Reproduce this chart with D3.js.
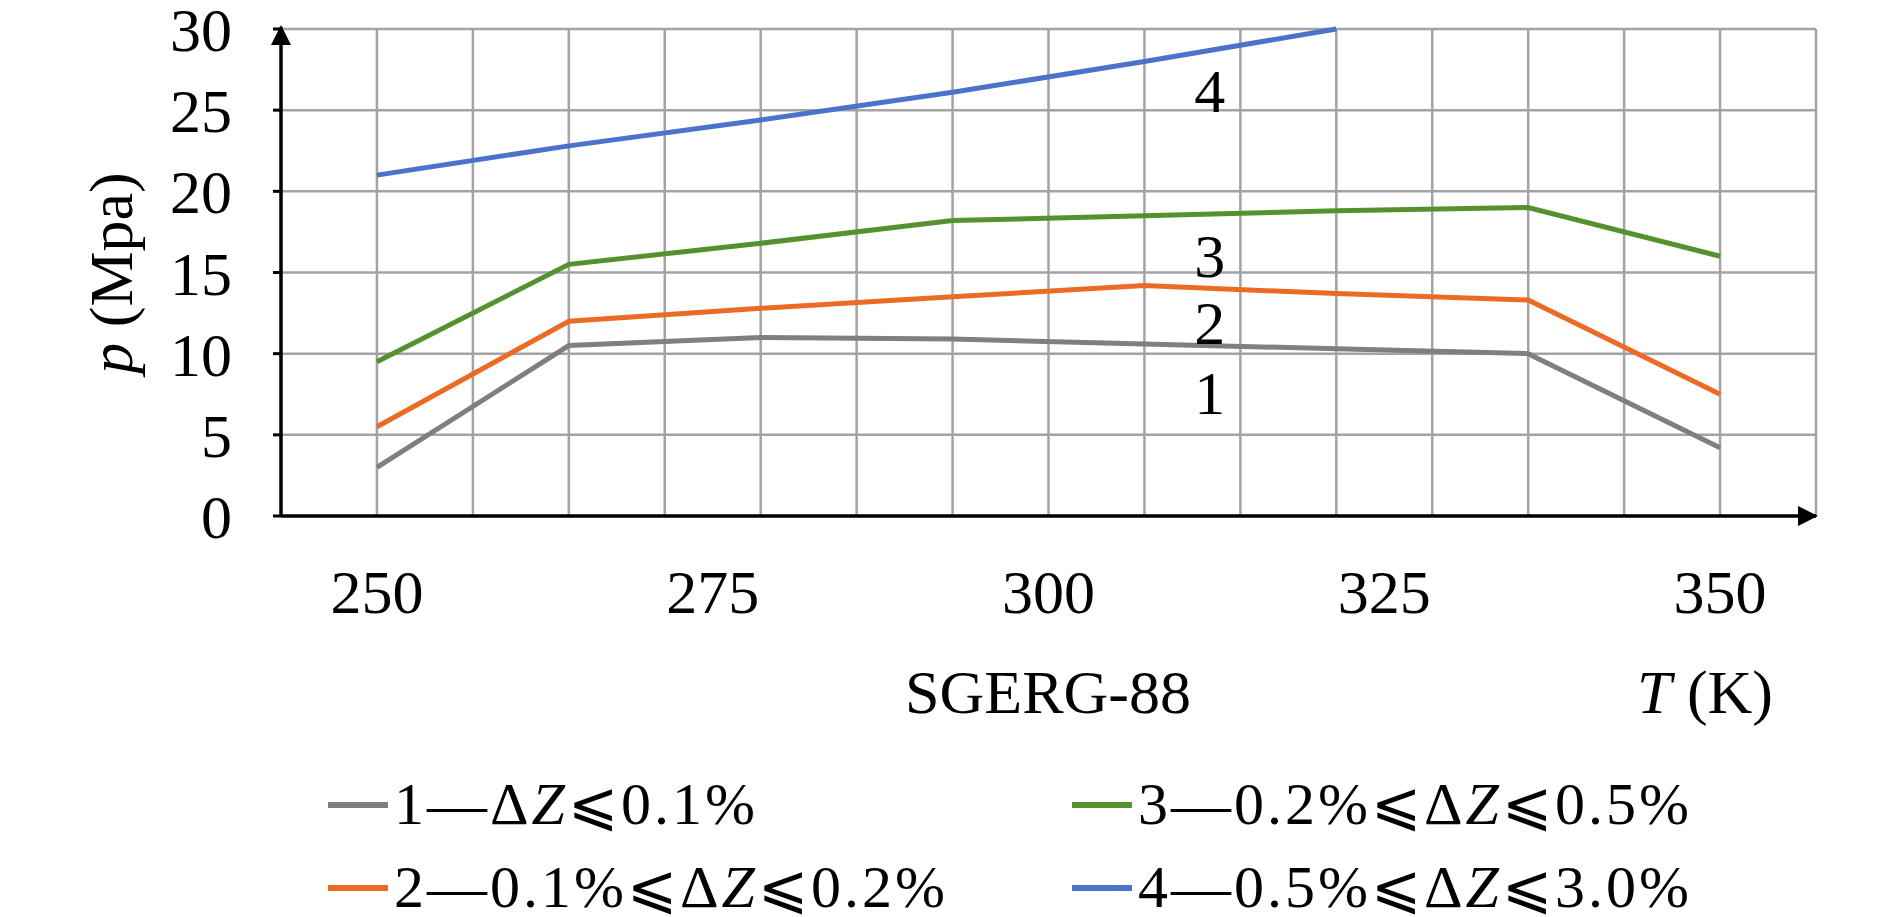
<!DOCTYPE html>
<html><head><meta charset="utf-8">
<script src="https://cdn.jsdelivr.net/npm/d3@7"></script>
<style>body{margin:0;background:#fff}text{font-family:"Liberation Serif","DejaVu Serif",serif;fill:#000}</style>
</head><body><svg id="c" width="1890" height="917"></svg>
<script>
// temperatures (K) of the sample points, and the p values of each curve
var temps = [250, 264.29, 278.57, 292.86, 307.14, 321.43, 335.71, 350]
var curve1 = [3.0, 10.5, 11.0, 10.9, 10.6, 10.3, 10.0, 4.2]
var curve2 = [5.5, 12.0, 12.8, 13.5, 14.2, 13.7, 13.3, 7.5]
var curve3 = [9.5, 15.5, 16.8, 18.2, 18.5, 18.8, 19.0, 16.0]
var curve4 = [21.0, 22.8, 24.4, 26.1, 28.0, 30.0]
var xTicks = [250, 275, 300, 325, 350]
var yTicks = [0, 5, 10, 15, 20, 25, 30]
var legendNames = [['1—Δ', '⩽0.1%'], ['2—0.1%⩽Δ', '⩽0.2%'], ['3—0.2%⩽Δ', '⩽0.5%'], ['4—0.5%⩽Δ', '⩽3.0%']]
var colors = ['#7f7f7f', '#ec6b24', '#56912f', '#4a74c9']
var curveLabels = [['1', 7.6], ['2', 11.9], ['3', 16.0], ['4', 26.2]]

var svg = d3.select('#c')
var step = 100 / 14
var x = d3.scaleLinear().domain([250 - step, 250 + 15 * step]).range([281, 1816])
var y = d3.scaleLinear().domain([0, 30]).range([516, 29])

// grid
var gx = d3.range(0, 16).map(function(i){ return 250 + i * step })
svg.selectAll('.vg').data(gx).enter().append('line')
	.attr('x1', function(d){ return x(d) }).attr('x2', function(d){ return x(d) })
	.attr('y1', y(0)).attr('y2', y(30))
	.attr('stroke', '#a3a3a3').attr('stroke-width', 2.5)
svg.selectAll('.hg').data(yTicks.slice(1)).enter().append('line')
	.attr('x1', x.range()[0]).attr('x2', x.range()[1])
	.attr('y1', function(d){ return y(d) }).attr('y2', function(d){ return y(d) })
	.attr('stroke', '#a3a3a3').attr('stroke-width', 2.5)

// axes with arrows
svg.append('defs').append('marker').attr('id', 'arr')
	.attr('viewBox', '0 0 10 10').attr('refX', 9).attr('refY', 5)
	.attr('markerWidth', 20).attr('markerHeight', 20).attr('markerUnits', 'userSpaceOnUse')
	.attr('orient', 'auto')
	.append('path').attr('d', 'M0,0L10,5L0,10z').attr('fill', '#000')
svg.append('line').attr('x1', x.range()[0]).attr('x2', x.range()[0])
	.attr('y1', y(0)).attr('y2', y(30) - 2).attr('stroke', '#000').attr('stroke-width', 3.5)
	.attr('marker-end', 'url(#arr)')
svg.append('line').attr('x1', x.range()[0]).attr('x2', x.range()[1])
	.attr('y1', y(0)).attr('y2', y(0)).attr('stroke', '#000').attr('stroke-width', 3.5)
	.attr('marker-end', 'url(#arr)')
svg.selectAll('.yt').data(yTicks).enter().append('line')
	.attr('x1', x.range()[0] - 8).attr('x2', x.range()[0])
	.attr('y1', function(d){ return y(d) }).attr('y2', function(d){ return y(d) })
	.attr('stroke', '#000').attr('stroke-width', 3)

svg.selectAll('.yl').data(yTicks).enter().append('text')
	.attr('x', 232).attr('y', function(d){ return y(d) + 22 })
	.attr('text-anchor', 'end').attr('font-size', 62).text(function(d){ return d })
svg.selectAll('.xl').data(xTicks).enter().append('text')
	.attr('x', function(d){ return x(d) }).attr('y', 613)
	.attr('text-anchor', 'middle').attr('font-size', 62).text(function(d){ return d })

svg.append('text').attr('transform', 'translate(132,273) rotate(-90)')
	.attr('text-anchor', 'middle').attr('font-size', 62)
	.html('<tspan font-style="italic">p</tspan> (Mpa)')
svg.append('text').attr('x', 1048).attr('y', 713).attr('text-anchor', 'middle')
	.attr('font-size', 62).text('SGERG-88')
svg.append('text').attr('x', 1705).attr('y', 713).attr('text-anchor', 'middle')
	.attr('font-size', 62).html('<tspan font-style="italic">T</tspan> (K)')

// curves
var line = d3.line().x(function(d, i){ return x(temps[i]) }).y(function(d){ return y(d) })
;[curve1, curve2, curve3, curve4].forEach(function(c, i){
	svg.append('path').attr('d', line(c)).attr('fill', 'none')
		.attr('stroke', colors[i]).attr('stroke-width', 5)
})
svg.selectAll('.cl').data(curveLabels).enter().append('text')
	.attr('x', x(312)).attr('y', function(d){ return y(d[1]) + 21 })
	.attr('text-anchor', 'middle').attr('font-size', 62).text(function(d){ return d[0] })

// legend
var lx = [328, 1072], ly = [805, 888]
legendNames.forEach(function(n, i){
	var col = i < 2 ? 0 : 1, row = i % 2
	svg.append('line').attr('x1', lx[col]).attr('x2', lx[col] + 60)
		.attr('y1', ly[row]).attr('y2', ly[row]).attr('stroke', colors[i]).attr('stroke-width', 6)
	var t = svg.append('text').attr('x', lx[col] + 66).attr('y', ly[row] + 19)
		.attr('font-size', 60).attr('letter-spacing', 3)
	t.append('tspan').text(n[0])
	t.append('tspan').attr('font-style', 'italic').text('Z')
	t.append('tspan').text(n[1])
})
</script></body></html>
